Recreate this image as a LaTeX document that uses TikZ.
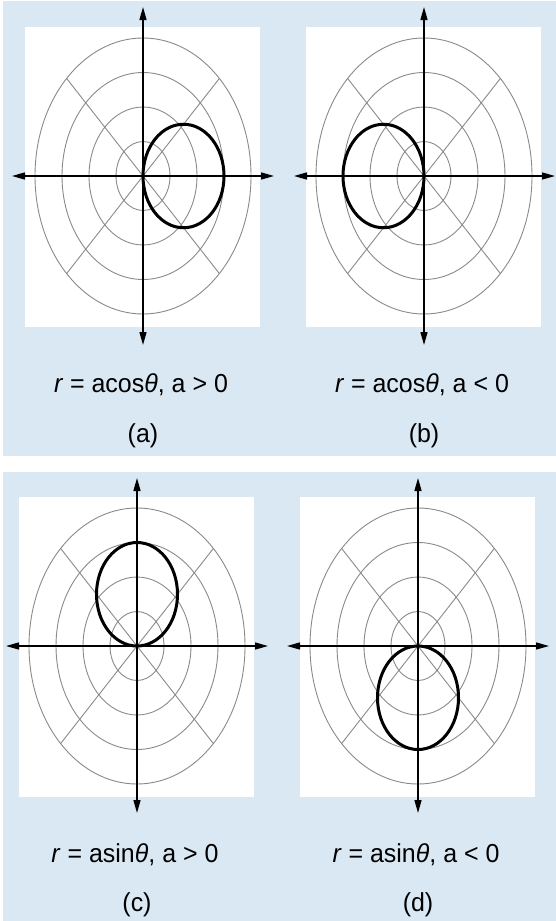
\documentclass[tikz,border=0pt]{standalone}
\usepackage{fontspec}
\setmainfont{Liberation Sans}
\usetikzlibrary{arrows.meta}
\definecolor{panelblue}{HTML}{DAE8F4}
\definecolor{gridgray}{HTML}{8A8A8A}
\tikzset{
  panelbg/.style={fill=panelblue, draw=none},
  plotbg/.style={fill=white, draw=none},
  gridline/.style={draw=gridgray, line width=0.9pt},
  axisline/.style={draw=black, line width=1.4pt, {Triangle[length=13pt,width=7pt]}-{Triangle[length=13pt,width=7pt]}},
  curveline/.style={draw=black, line width=3pt},
  caption/.style={font=\fontsize{26}{26}\selectfont, inner sep=0pt, anchor=base},
}
\newcommand{\mytext}[1]{\scalebox{0.96}[1]{#1}}
\begin{document}
\begin{tikzpicture}[x=1pt,y=-1pt]
  \useasboundingbox (0,0) rectangle (556,921);
  % panels
  \fill[panelbg] (3,1) rectangle (556,456);
  \fill[panelbg] (3,472) rectangle (556,921);
  % plot backgrounds and grids
  \foreach \cx/\cy in {143/176, 424/176, 137/646, 418/646}{
    \begin{scope}[shift={(\cx,\cy)}]
      \fill[plotbg] (-118,-149) rectangle (117,151);
      \foreach \k in {1,2,3,4}
        \draw[gridline] (0,0) ellipse [x radius={27*\k}, y radius={34.5*\k}];
      \draw[gridline] (-76.4,-97.6) -- (76.4,97.6);
      \draw[gridline] (-76.4,97.6) -- (76.4,-97.6);
    \end{scope}
  }
  % axis end points
  \coordinate (aL) at (12,176);  \coordinate (aR) at (274,176);
  \coordinate (aT) at (143,7);   \coordinate (aB) at (143,345);
  \coordinate (bL) at (294,176); \coordinate (bR) at (555,176);
  \coordinate (bT) at (424,7);   \coordinate (bB) at (424,345);
  \coordinate (cL) at (6,646);   \coordinate (cR) at (268,646);
  \coordinate (cT) at (137,478); \coordinate (cB) at (137,813);
  \coordinate (dL) at (287,646); \coordinate (dR) at (549,646);
  \coordinate (dT) at (418,478); \coordinate (dB) at (418,813);
  % curves
  \draw[curveline] (183.5,176) ellipse [x radius=40.5, y radius=51.75];
  \draw[curveline] (383.5,176) ellipse [x radius=40.5, y radius=51.75];
  \draw[curveline] (137,594.25) ellipse [x radius=40.5, y radius=51.75];
  \draw[curveline] (418,697.75) ellipse [x radius=40.5, y radius=51.75];
  % axes
  \foreach \p in {a,b,c,d}{
    \draw[axisline] (\p L) -- (\p R);
    \draw[axisline] (\p T) -- (\p B);
  }
  % captions
  \node[caption] (capa) at (141,392) {\mytext{\textit{r} = acos\textit{θ}, a > 0}};
  \node[caption] (capb) at (422,392) {\mytext{\textit{r} = acos\textit{θ}, a < 0}};
  \node[caption] (capc) at (135,862) {\mytext{\textit{r} = asin\textit{θ}, a > 0}};
  \node[caption] (capd) at (416,862) {\mytext{\textit{r} = asin\textit{θ}, a < 0}};
  \node[caption] (laba) at (143,442) {\mytext{(a)}};
  \node[caption] (labb) at (424,442) {\mytext{(b)}};
  \node[caption] (labc) at (137,911) {\mytext{(c)}};
  \node[caption] (labd) at (418,911) {\mytext{(d)}};
\end{tikzpicture}
\end{document}
